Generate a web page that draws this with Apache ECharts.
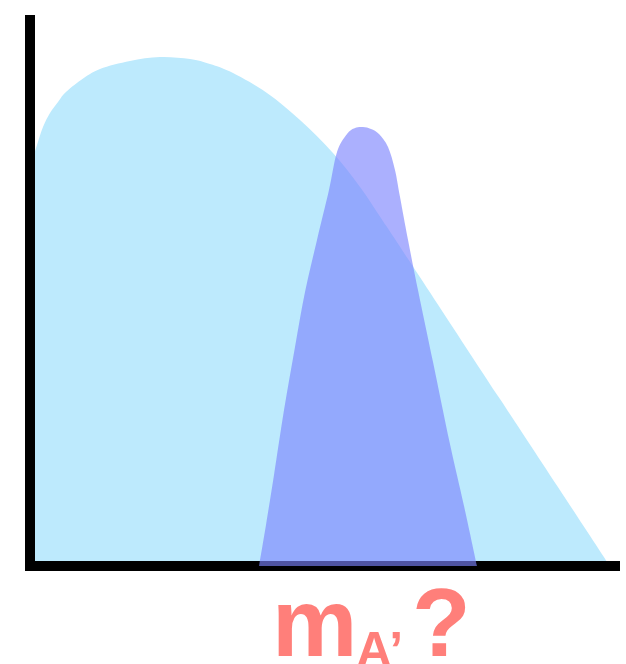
<!DOCTYPE html>
<html>
<head>
<meta charset="utf-8">
<script src="https://cdn.jsdelivr.net/npm/echarts@6/dist/echarts.min.js"></script>
<style>
  html, body { margin: 0; padding: 0; background: #ffffff; }
  #chart { width: 626px; height: 664px; }
</style>
</head>
<body>
<div id="chart"></div>
<script>
// Broad prior distribution: [x, density] pairs
const priorCurve = [
  [0, 72.16], [0.51, 74.73], [1.20, 77.11], [2.22, 80.40], [3.42, 82.97],
  [4.79, 84.98], [5.98, 86.63], [8.72, 89.01], [11.97, 91.03], [17.09, 92.49],
  [22.22, 93.22], [27.35, 92.86], [30.77, 91.94], [34.70, 90.29], [40.51, 86.63],
  [46.15, 81.68], [51.79, 75.64], [56.41, 69.41], [61.03, 62.09], [80.34, 30.59],
  [99.15, 0]
];

// Narrow posterior distribution: [x, density] pairs
const posteriorCurve = [
  [39.15, 0], [40.34, 7.51], [41.71, 16.67], [43.42, 28.57], [45.30, 40.11],
  [47.01, 50.18], [49.06, 59.71], [51.11, 68.86], [52.48, 75.82], [54.19, 79.12],
  [55.56, 80.22], [56.92, 80.40], [58.29, 80.04], [59.66, 79.12], [61.20, 76.74],
  [62.39, 72.53], [63.25, 67.58], [64.62, 59.71], [66.32, 50.55], [68.89, 37.36],
  [71.79, 22.34], [74.19, 10.99], [76.41, 0]
];

// Label pieces under the axis
const labelMain = 'm';
const labelSub = 'A\u2019';
const labelTail = '?';

const chart = echarts.init(document.getElementById('chart'), null, { renderer: 'canvas' });

const axisCommon = {
  type: 'value',
  min: 0,
  max: 100,
  z: 3,
  axisLine: { show: true, onZero: false, lineStyle: { color: '#000000', width: 10, cap: 'square' } },
  axisTick: { show: false },
  axisLabel: { show: false },
  splitLine: { show: false }
};

// Filled density area: a Catmull-Rom spline through the points, mapped
// through the cartesian axes, closed down to the zero line.
function densityArea(points, fill, opacity) {
  return function (params, api) {
    if (params.dataIndex !== 0) return null;
    const pts = points.map(function (p) { return api.coord(p); });
    const base = api.coord([0, 0])[1];
    const n = pts.length;
    const f = function (v) { return v.toFixed(2); };
    let d = 'M' + f(pts[0][0]) + ' ' + f(base) + ' L' + f(pts[0][0]) + ' ' + f(pts[0][1]);
    for (let i = 0; i < n - 1; i++) {
      const p0 = pts[i - 1] || pts[i];
      const p1 = pts[i];
      const p2 = pts[i + 1];
      const p3 = pts[i + 2] || p2;
      const c1x = p1[0] + (p2[0] - p0[0]) / 6;
      const c1y = p1[1] + (p2[1] - p0[1]) / 6;
      const c2x = p2[0] - (p3[0] - p1[0]) / 6;
      const c2y = p2[1] - (p3[1] - p1[1]) / 6;
      d += ' C' + f(c1x) + ' ' + f(c1y) + ' ' + f(c2x) + ' ' + f(c2y) + ' ' + f(p2[0]) + ' ' + f(p2[1]);
    }
    d += ' L' + f(pts[n - 1][0]) + ' ' + f(base) + ' Z';
    return {
      type: 'path',
      shape: { pathData: d },
      style: { fill: fill, opacity: opacity, stroke: null }
    };
  };
}

const labelColor = '#ff7f7a';
const labelFont = '"Liberation Sans", Arial, Helvetica, sans-serif';

chart.setOption({
  animation: false,
  backgroundColor: '#ffffff',
  grid: { left: 30, right: 11, top: 20, bottom: 98, containLabel: false },
  xAxis: axisCommon,
  yAxis: axisCommon,
  series: [
    {
      type: 'custom',
      data: priorCurve,
      encode: { x: 0, y: 1 },
      z: 1,
      silent: true,
      renderItem: densityArea(priorCurve, '#bdeafd', 1)
    },
    {
      type: 'custom',
      data: posteriorCurve,
      encode: { x: 0, y: 1 },
      z: 5,
      silent: true,
      renderItem: densityArea(posteriorCurve, 'rgb(124,131,254)', 0.64)
    }
  ],
  graphic: [
    {
      type: 'text', left: 272, top: 582, z: 10,
      style: { text: labelMain, fill: labelColor, font: 'bold 96px ' + labelFont }
    },
    {
      type: 'text', left: 356, top: 628, z: 10,
      style: { text: labelSub, fill: labelColor, font: 'bold 50px ' + labelFont }
    },
    {
      type: 'text', left: 412, top: 582, z: 10,
      style: { text: labelTail, fill: labelColor, font: 'bold 96px ' + labelFont }
    }
  ]
});
</script>
</body>
</html>
